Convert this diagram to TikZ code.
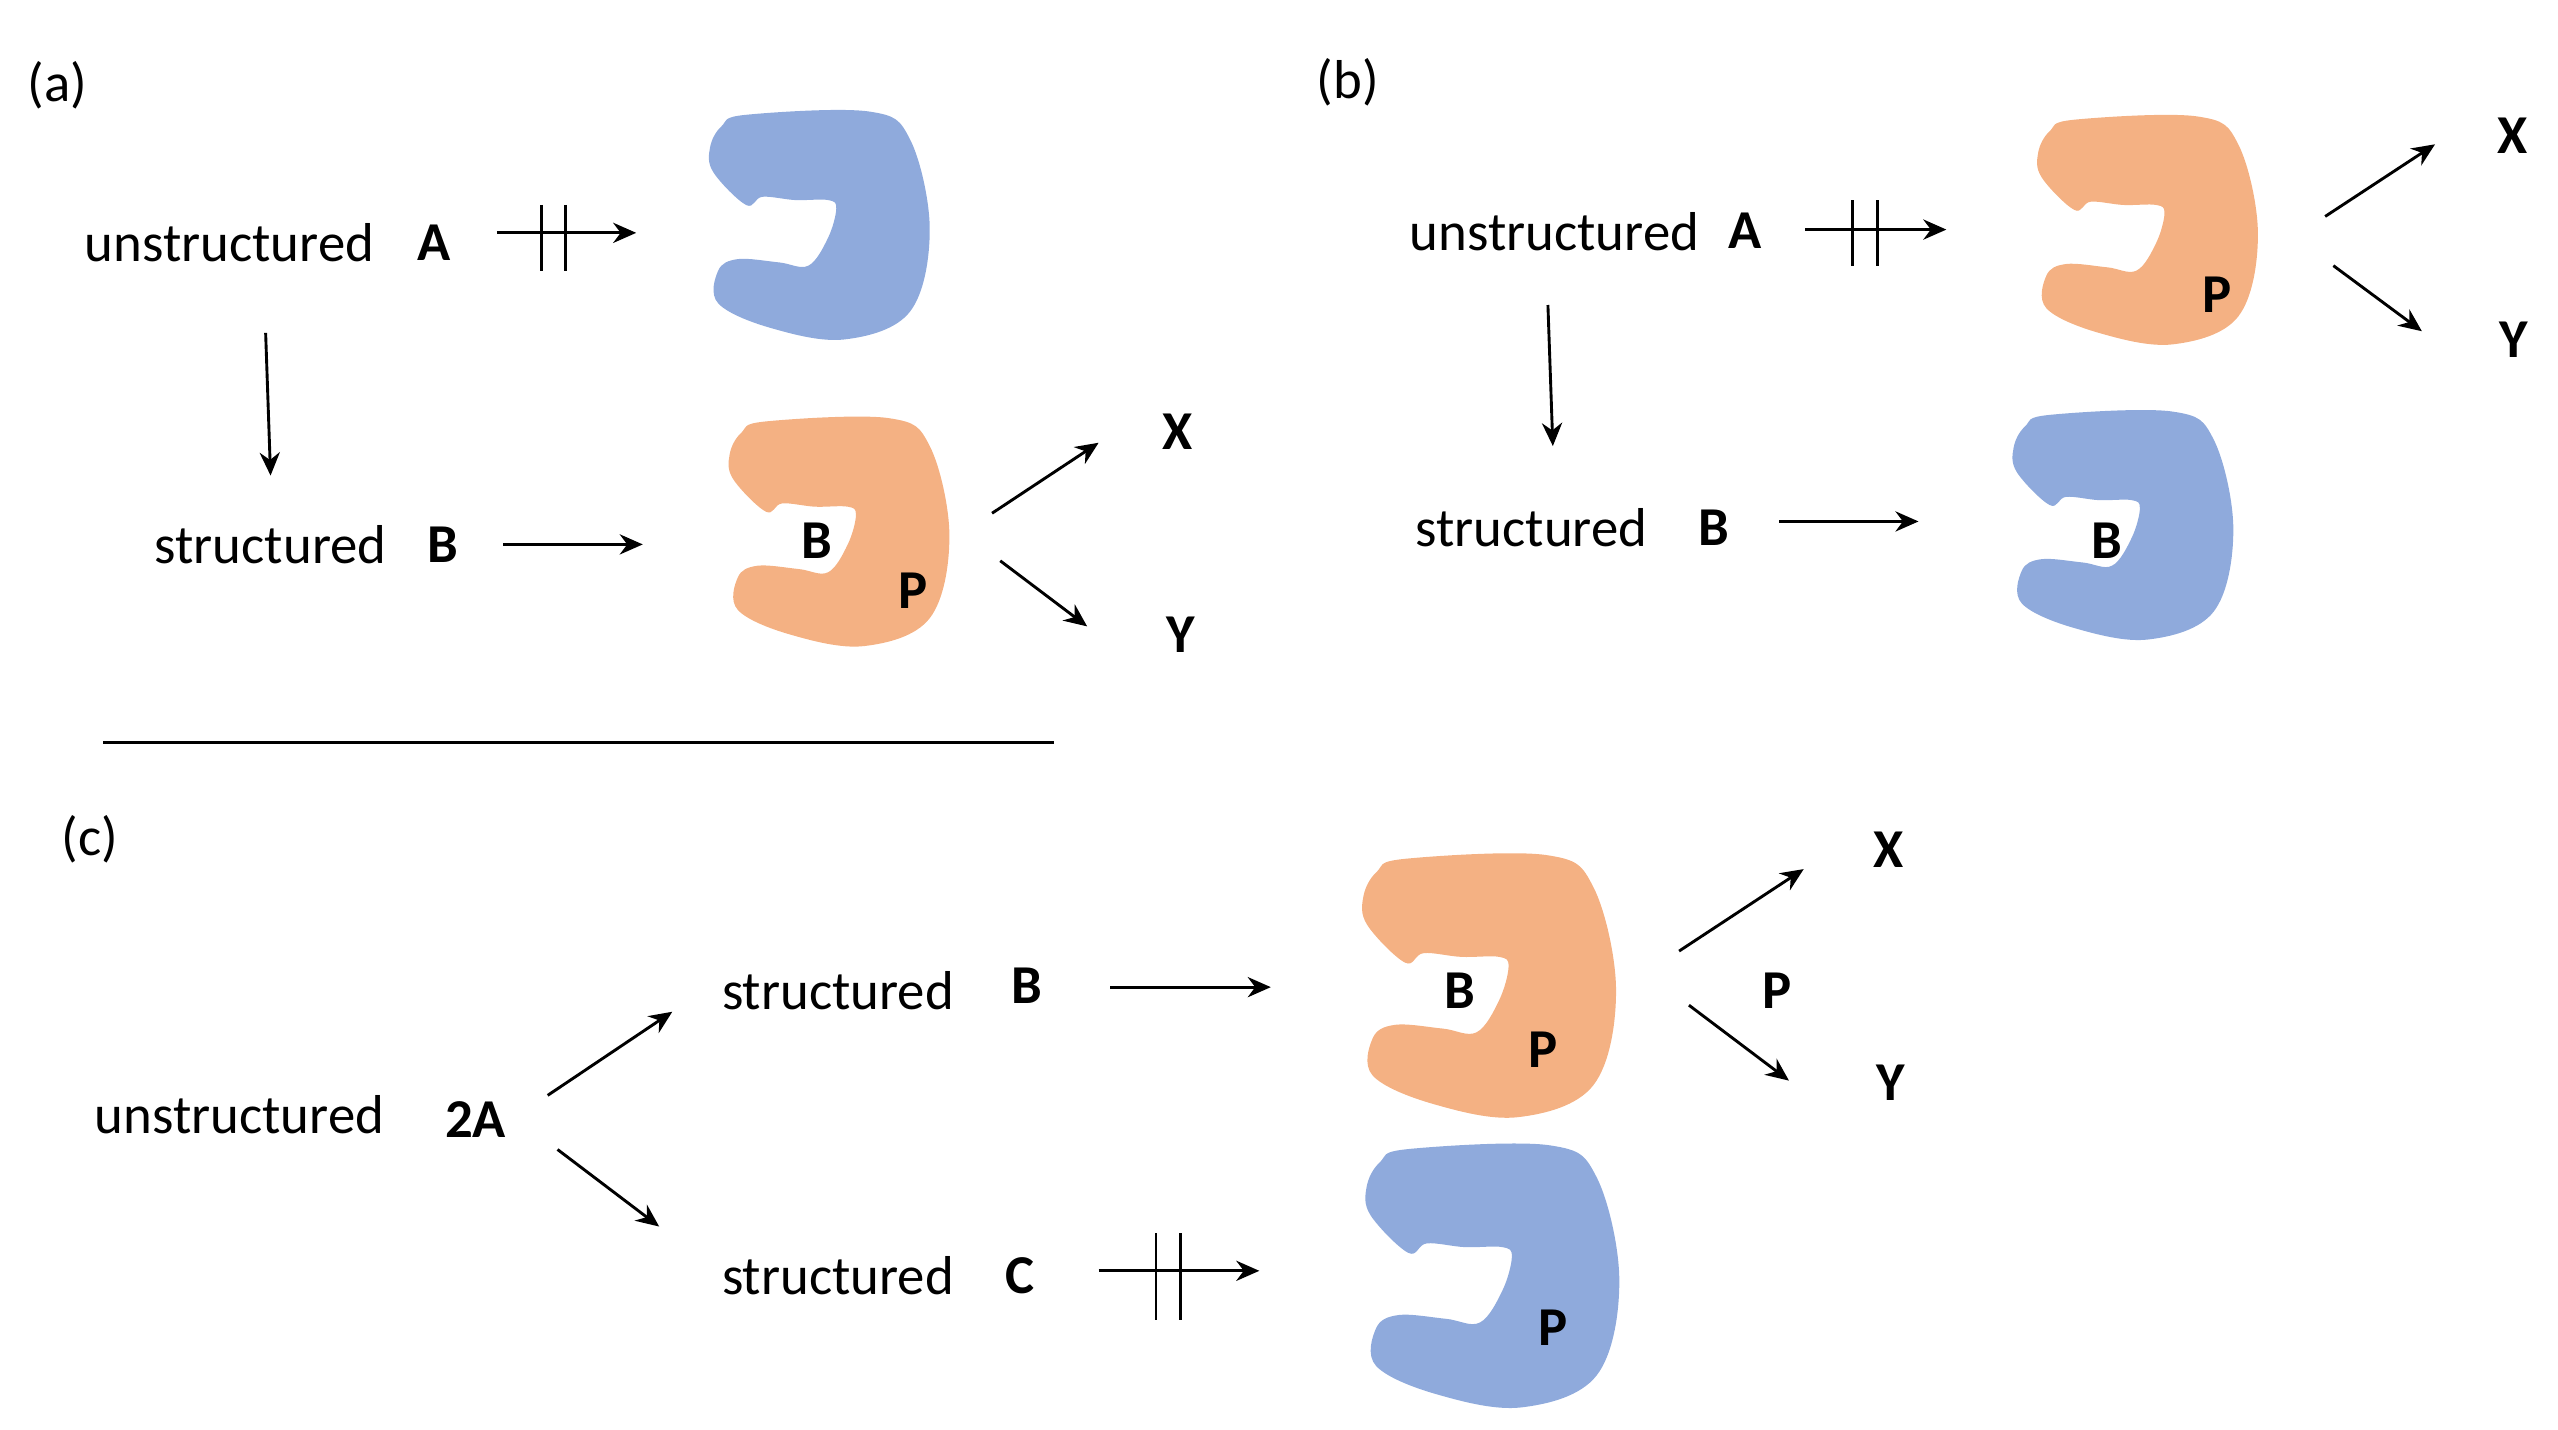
\documentclass[tikz,border=0pt]{standalone}
\usepackage{fontspec}
\setmainfont{Carlito}
\usetikzlibrary{arrows.meta}
\definecolor{eblue}{HTML}{8FAADC}
\definecolor{eorange}{HTML}{F4B183}
\begin{document}
\begin{tikzpicture}[x=0.01cm,y=-0.01cm,
  t/.style={font=\fontsize{9.5}{11}\selectfont},
  b/.style={font=\fontsize{9.5}{11}\selectfont\bfseries},
  ar/.style={-{Stealth[length=4pt,width=3.5pt]},line width=0.5pt},
  blob/.pic={\fill[pic actions] plot[smooth cycle,tension=0.6] coordinates{(25,5)(100,3)(125,20)(137,75)(125,125)(85,142)(40,135)(8,120)(8,100)(20,93)(45,95)(63,97)(75,80)(80,62)(75,57)(55,57)(35,55)(25,60)(5,40)(3,25)(10,12)};}]
\useasboundingbox (0,0) rectangle (1560,872);
% blobs
\pic[eblue] at (430,65) {blob};
\pic[eorange] at (442,252) {blob};
\pic[eorange] at (1240,68) {blob};
\pic[eblue] at (1225,248) {blob};
\pic[eorange,scale=1.15] at (828,518) {blob};
\pic[eblue,scale=1.15] at (830,695) {blob};
% (a)
\node[t] (la) at (35,52) {(a)};
\node[t] (ua) at (140,148) {unstructured};
\node[b] (A1) at (265,148) {A};
\coordinate (a1s) at (303,142); \coordinate (a1e) at (388,142);
\draw[ar] (a1s) -- (a1e);
\draw[line width=0.5pt] (330,125) -- (330,165) (345,125) -- (345,165);
\coordinate (v1s) at (162,203); \coordinate (v1e) at (165,290);
\draw[ar] (v1s) -- (v1e);
\node[t] (sa) at (165,332) {structured};
\node[b] (B1) at (270,332) {B};
\coordinate (a2s) at (307,332); \coordinate (a2e) at (392,332);
\draw[ar] (a2s) -- (a2e);
\node[b] (Bb1) at (498,330) {B};
\node[b] (Pb1) at (557,360) {P};
\coordinate (x1s) at (605,313); \coordinate (x1e) at (670,270);
\coordinate (y1s) at (610,342); \coordinate (y1e) at (663,382);
\draw[ar] (x1s) -- (x1e);
\draw[ar] (y1s) -- (y1e);
\node[b] (X1) at (718,263) {X};
\node[b] (Y1) at (720,387) {Y};
\draw[line width=0.5pt] (63,453) -- (643,453);
% (b)
\node[t] (lb) at (822,50) {(b)};
\node[t] (ub) at (948,141) {unstructured};
\node[b] (A2) at (1064,141) {A};
\coordinate (b1s) at (1101,140); \coordinate (b1e) at (1187,140);
\draw[ar] (b1s) -- (b1e);
\draw[line width=0.5pt] (1130,122) -- (1130,162) (1145,122) -- (1145,162);
\node[b] (Pb2) at (1352,180) {P};
\coordinate (x2s) at (1418,132); \coordinate (x2e) at (1485,88);
\coordinate (y2s) at (1423,162); \coordinate (y2e) at (1477,202);
\draw[ar] (x2s) -- (x2e);
\draw[ar] (y2s) -- (y2e);
\node[b] (X2) at (1532,83) {X};
\node[b] (Y2) at (1533,207) {Y};
\coordinate (v2s) at (944,186); \coordinate (v2e) at (947,272);
\draw[ar] (v2s) -- (v2e);
\node[t] (sb) at (934,322) {structured};
\node[b] (B2) at (1045,322) {B};
\coordinate (b2s) at (1085,318); \coordinate (b2e) at (1170,318);
\draw[ar] (b2s) -- (b2e);
\node[b] (Bb2) at (1285,330) {B};
% (c)
\node[t] (lc) at (55,512) {(c)};
\node[t] (uc) at (146,680) {unstructured};
\node[b] (A3) at (290,683) {2A};
\coordinate (c1s) at (334,668); \coordinate (c1e) at (410,617);
\coordinate (c2s) at (340,701); \coordinate (c2e) at (402,748);
\draw[ar] (c1s) -- (c1e);
\draw[ar] (c2s) -- (c2e);
\node[t] (sc1) at (511,604) {structured};
\node[b] (B3) at (626,601) {B};
\coordinate (c3s) at (677,602); \coordinate (c3e) at (775,602);
\draw[ar] (c3s) -- (c3e);
\node[b] (Bb3) at (890,604) {B};
\node[b] (Pb3) at (941,640) {P};
\coordinate (x3s) at (1024,580); \coordinate (x3e) at (1100,530);
\coordinate (y3s) at (1030,613); \coordinate (y3e) at (1091,659);
\draw[ar] (x3s) -- (x3e);
\draw[ar] (y3s) -- (y3e);
\node[b] (X3) at (1152,518) {X};
\node[b] (P3) at (1084,604) {P};
\node[b] (Y3) at (1153,660) {Y};
\node[t] (sc2) at (511,778) {structured};
\node[b] (C3) at (622,778) {C};
\coordinate (c4s) at (670,775); \coordinate (c4e) at (768,775);
\draw[ar] (c4s) -- (c4e);
\draw[line width=0.5pt] (705,752) -- (705,805) (720,752) -- (720,805);
\node[b] (Pb4) at (947,810) {P};
\end{tikzpicture}
\end{document}
